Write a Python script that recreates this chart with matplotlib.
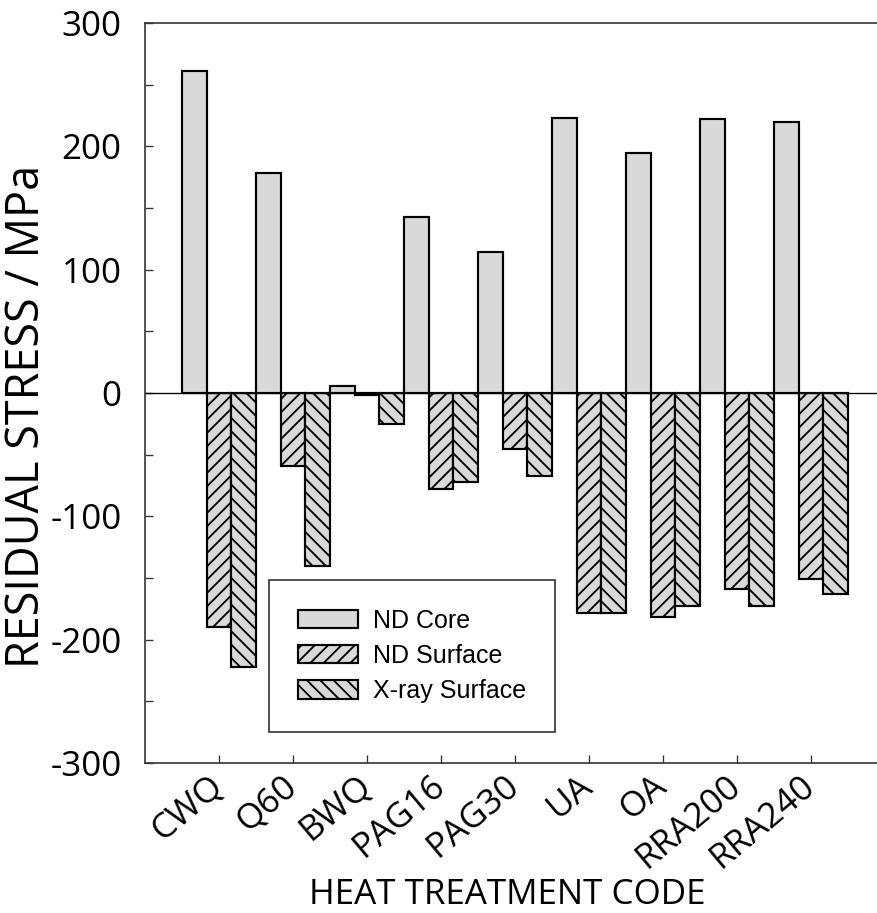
import numpy as np
import matplotlib
matplotlib.use('Agg')
import matplotlib.pyplot as plt
from matplotlib.ticker import MultipleLocator

codes = ['CWQ', 'Q60', 'BWQ', 'PAG16', 'PAG30', 'UA', 'OA', 'RRA200', 'RRA240']
nd_core = [261, 178, 6, 143, 114, 223, 195, 222, 220]
nd_surface = [-190, -59, -2, -78, -45, -178, -182, -159, -151]
xray_surface = [-222, -140, -25, -72, -67, -178, -173, -173, -163]
series = ['ND Core', 'ND Surface', 'X-ray Surface']

DPI = 120
plt.rcParams['hatch.linewidth'] = 1.1
plt.rcParams['axes.unicode_minus'] = False
fig = plt.figure(figsize=(877 / DPI, 913 / DPI), dpi=DPI)
ax = fig.add_axes([145 / 877, 150 / 913, 740 / 877, 740 / 913])

x = np.arange(1, len(codes) + 1)
w = 1 / 3.
fill = '#d9d9d9'
ax.bar(x - w, nd_core, w, color=fill, edgecolor='black', lw=1.3, label=series[0])
ax.bar(x, nd_surface, w, color=fill, edgecolor='black', lw=1.3, hatch='///', label=series[1])
ax.bar(x + w, xray_surface, w, color=fill, edgecolor='black', lw=1.3, hatch='\\\\\\', label=series[2])
ax.axhline(0, color='black', lw=0.8)

ax.set_xlim(0, 10)
ax.set_ylim(-300, 300)
ax.yaxis.set_major_locator(MultipleLocator(100))
ax.yaxis.set_minor_locator(MultipleLocator(50))
ax.set_xticks(x)

tick_font = 'Open Sans'
ax.set_xticklabels(codes, rotation=40, ha='right', va='center', rotation_mode='anchor',
                   fontsize=21, family=tick_font)
for lab in ax.get_yticklabels():
    lab.set_fontsize(21)
    lab.set_family(tick_font)

ax.tick_params(axis='both', which='both', direction='in', length=5, width=0.8,
               top=False, right=False, color='#333333')
ax.tick_params(axis='x', pad=11)
ax.tick_params(axis='y', pad=14)
for s in ax.spines.values():
    s.set_linewidth(1.0)
    s.set_color('#333333')

ax.set_ylabel('RESIDUAL STRESS / MPa', fontsize=27, family=tick_font)
ax.yaxis.set_label_coords(-0.128, 0.469)
ax.set_xlabel('HEAT TREATMENT CODE', fontsize=21, family=tick_font)
ax.xaxis.set_label_coords(0.49, -0.156)

leg = ax.legend(loc='upper left', bbox_to_anchor=(0.1676, 0.2473), borderaxespad=0,
                prop={'family': 'Liberation Sans', 'size': 15},
                handlelength=2.4, handleheight=0.75, handletextpad=0.6,
                labelspacing=0.45, borderpad=1.15, fancybox=False, framealpha=1)
leg.get_frame().set_edgecolor('#333333')
leg.get_frame().set_linewidth(1.0)

fig.savefig('out.png', dpi=DPI)
